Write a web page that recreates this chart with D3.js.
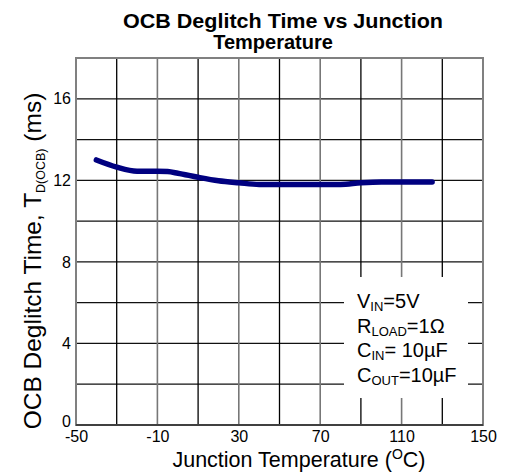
<!DOCTYPE html>
<html><head><meta charset="utf-8">
<script src="https://cdn.jsdelivr.net/npm/d3@7"></script>
<style>
body{margin:0;background:#fff;}
svg text{font-family:Arial,"Liberation Sans",sans-serif;fill:#000;}
</style></head>
<body>
<svg id="chart" width="506" height="472"></svg>
<script>
const tempC = [-40, -30, -20, -10, -5, 0, 10, 20, 30, 40, 50, 60, 70, 80, 90, 100, 110, 125];
const deglitchMs = [13.0, 12.65, 12.45, 12.45, 12.43, 12.35, 12.15, 11.98, 11.88, 11.8, 11.8, 11.8, 11.8, 11.8, 11.88, 11.92, 11.92, 11.92];
const xTickLabels = [-50, -10, 30, 70, 110, 150];
const yTickLabels = [0, 4, 8, 12, 16];
const xGrid = [-30, 10, 50, 90, 130];
const yGrid = [2, 6, 10, 14];

const svg = d3.select("#chart");
const L = 76, R = 483, T = 58, B = 425;
const x = d3.scaleLinear().domain([-50, 150]).range([L, R]);
const y = d3.scaleLinear().domain([0, 18]).range([B, T]);

// grid
const g = svg.append("g");
g.selectAll(".hg").data(yTickLabels.concat(yGrid).filter(v => v > 0)).join("line")
  .attr("x1", L).attr("x2", R).attr("y1", d => y(d)).attr("y2", d => y(d))
  .attr("stroke", "#111").attr("stroke-width", 1.3);
g.selectAll(".vg1").data(xGrid).join("line")
  .attr("x1", d => x(d)).attr("x2", d => x(d)).attr("y1", T).attr("y2", B)
  .attr("stroke", "#000").attr("stroke-width", 1.3);
g.selectAll(".vg2").data(xTickLabels.slice(1, -1)).join("line")
  .attr("x1", d => x(d)).attr("x2", d => x(d)).attr("y1", T).attr("y2", B)
  .attr("stroke", "#777").attr("stroke-width", 1.6);
// frame
svg.append("rect").attr("x", L).attr("y", T).attr("width", R - L).attr("height", B - T)
  .attr("fill", "none").attr("stroke", "#808080").attr("stroke-width", 2);
svg.append("line").attr("x1", L).attr("x2", R).attr("y1", B).attr("y2", B)
  .attr("stroke", "#404040").attr("stroke-width", 2);

// legend box
svg.append("rect").attr("x", 344).attr("y", 277).attr("width", 124).attr("height", 121).attr("fill", "#fff");

// axes labels
const xAxis = d3.axisBottom(x).tickValues(xTickLabels).tickSize(0).tickPadding(6).tickFormat(d => String(d));
const xa = svg.append("g").attr("transform", `translate(0,${B})`).call(xAxis);
xa.select(".domain").remove();
xa.selectAll("text").attr("font-size", 16).attr("fill", "#000");
const yAxis = d3.axisLeft(y).tickValues(yTickLabels).tickSize(0).tickPadding(5).tickFormat(d => String(d));
const ya = svg.append("g").attr("transform", `translate(${L},0)`).call(yAxis);
ya.select(".domain").remove();
ya.selectAll("text").attr("font-size", 16).attr("fill", "#000");
ya.selectAll(".tick").filter(d => d === 0).select("text").attr("dy", "0.1em");

// data line
svg.append("path").datum(tempC.map((t, i) => [t, deglitchMs[i]]))
  .attr("fill", "none").attr("stroke", "#000080").attr("stroke-width", 5.5)
  .attr("stroke-linecap", "round").attr("stroke-linejoin", "round")
  .attr("d", d3.line().x(d => x(d[0])).y(d => y(d[1])).curve(d3.curveMonotoneX));

// title
svg.append("text").attr("x", 283).attr("y", 28).attr("text-anchor", "middle")
  .attr("font-size", 20).attr("font-weight", "bold")
  .attr("textLength", 320).attr("lengthAdjust", "spacingAndGlyphs")
  .text("OCB Deglitch Time vs Junction");
svg.append("text").attr("x", 273).attr("y", 49).attr("text-anchor", "middle")
  .attr("font-size", 20).attr("font-weight", "bold").text("Temperature");

// x title
const xt = svg.append("text").attr("x", 299).attr("y", 467).attr("text-anchor", "middle").attr("font-size", 21.5);
xt.append("tspan").text("Junction Temperature (");
xt.append("tspan").attr("font-size", 14).attr("dy", -8).text("O");
xt.append("tspan").attr("dy", 8).text("C)");

// y title
const yt = svg.append("text").attr("transform", "translate(41,261) rotate(-90)").attr("text-anchor", "middle").attr("font-size", 24.5);
yt.append("tspan").text("OCB Deglitch Time, T");
yt.append("tspan").attr("font-size", 12.5).attr("dy", 4).text("D(OCB)");
yt.append("tspan").attr("dy", -4).text(" (ms)");

// legend text
const legend = [["V", "IN", "=5V"], ["R", "LOAD", "=1\u03A9"], ["C", "IN", "= 10\u00B5F"], ["C", "OUT", "=10\u00B5F"]];
legend.forEach((l, i) => {
  const t = svg.append("text").attr("x", 357).attr("y", 308 + i * 24.6).attr("font-size", 20);
  t.append("tspan").text(l[0]);
  t.append("tspan").attr("font-size", 13).attr("dy", 3).text(l[1]);
  t.append("tspan").attr("dy", -3).text(l[2]);
});
</script>
</body></html>
